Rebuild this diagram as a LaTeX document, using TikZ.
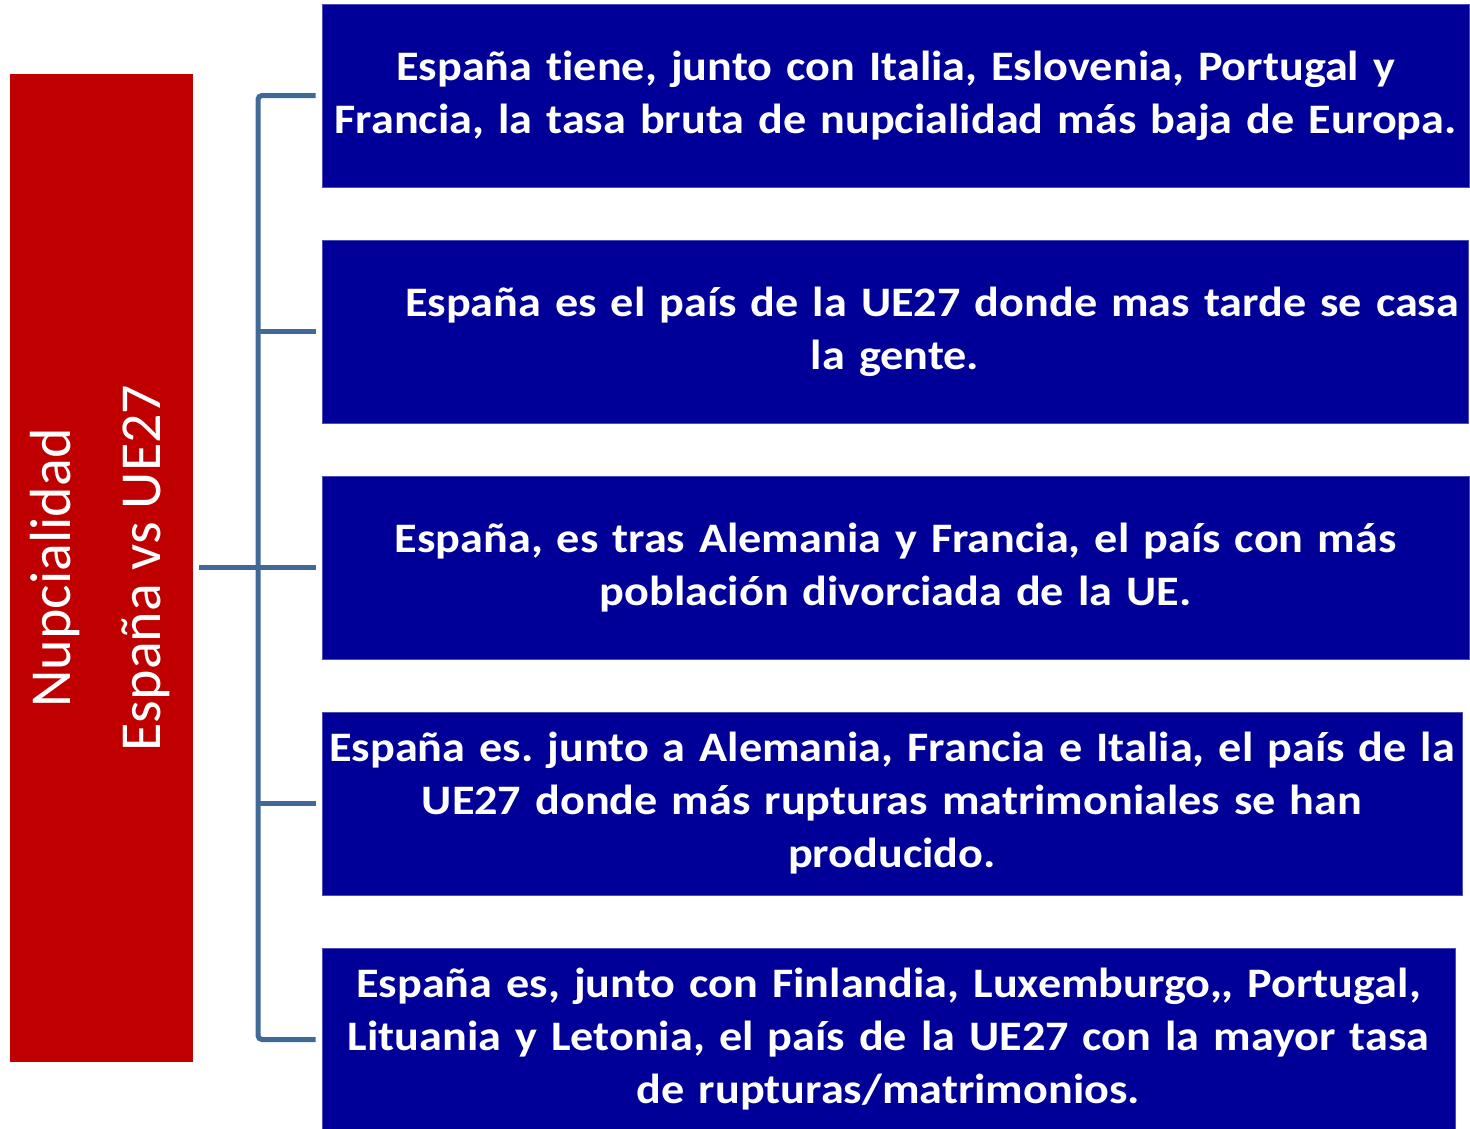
\documentclass[tikz,border=0pt]{standalone}
\usepackage{fontspec}
\setmainfont{Carlito}
\newfontfamily\boxfont[FakeStretch=1.1,Ligatures=NoCommon]{Carlito}
\definecolor{boxblue}{RGB}{0,0,153}
\definecolor{boxred}{RGB}{192,0,0}
\definecolor{connblue}{RGB}{65,105,152}
\tikzset{
  bluebox/.style={fill=boxblue, draw=boxblue!70!white, line width=0.8pt, inner sep=0pt,
    minimum height=183pt, text=white, align=center,
    font=\boxfont\frenchspacing\bfseries\fontsize{42}{53}\selectfont},
  redbox/.style={fill=boxred, inner sep=0pt, minimum width=183pt, minimum height=988pt},
  conn/.style={draw=connblue, line width=5pt}
}
\begin{document}
\begin{tikzpicture}[x=1pt,y=-1pt]
\useasboundingbox (0,0) rectangle (1470,1128);
\node[redbox] (red) at (101.5,568) {};
\node[rotate=90, text=white, align=center, font=\fontsize{58}{90}\selectfont] (redtext) at (100,568)
  {Nupcialidad\\España vs UE27};
\node[bluebox, minimum width=1147pt, text width=1147pt] (b1) at (895.5,95.5)
  {España tiene, junto con Italia, Eslovenia, Portugal y\\Francia, la tasa bruta de nupcialidad más baja de Europa.};
\node[bluebox, minimum width=1146pt, text width=1146pt] (b2) at (895,331.5)
  {\hspace*{74pt}España es el país de la UE27 donde mas tarde se casa\\la gente.};
\node[bluebox, minimum width=1147pt, text width=1147pt] (b3) at (895.5,567.5)
  {España, es tras Alemania y Francia, el país con más\\población divorciada de la UE.};
\node[bluebox, minimum width=1140pt, text width=1140pt] (b4) at (892,803.5)
  {España es. junto a Alemania, Francia e Italia, el país de la\\UE27 donde más rupturas matrimoniales se han\\producido.};
\node[bluebox, minimum width=1133pt, text width=1133pt] (b5) at (888.5,1039.5)
  {España es, junto con Finlandia, Luxemburgo,{},\ Portugal,\\Lituania y Letonia, el país de la UE27 con la mayor tasa\\de rupturas/matrimonios.};
\coordinate (spine) at (258,567.5);
\draw[conn] ([xshift=6pt]red.east |- b3.west) -- ([xshift=-6pt]b3.west);
\draw[conn, rounded corners=4pt] ([xshift=-6pt]b1.west) -| (spine) |- ([xshift=-6pt]b5.west);
\draw[conn] ([xshift=-6pt]b2.west) -- (spine |- b2.west);
\draw[conn] ([xshift=-6pt]b4.west) -- (spine |- b4.west);
\end{tikzpicture}
\end{document}
